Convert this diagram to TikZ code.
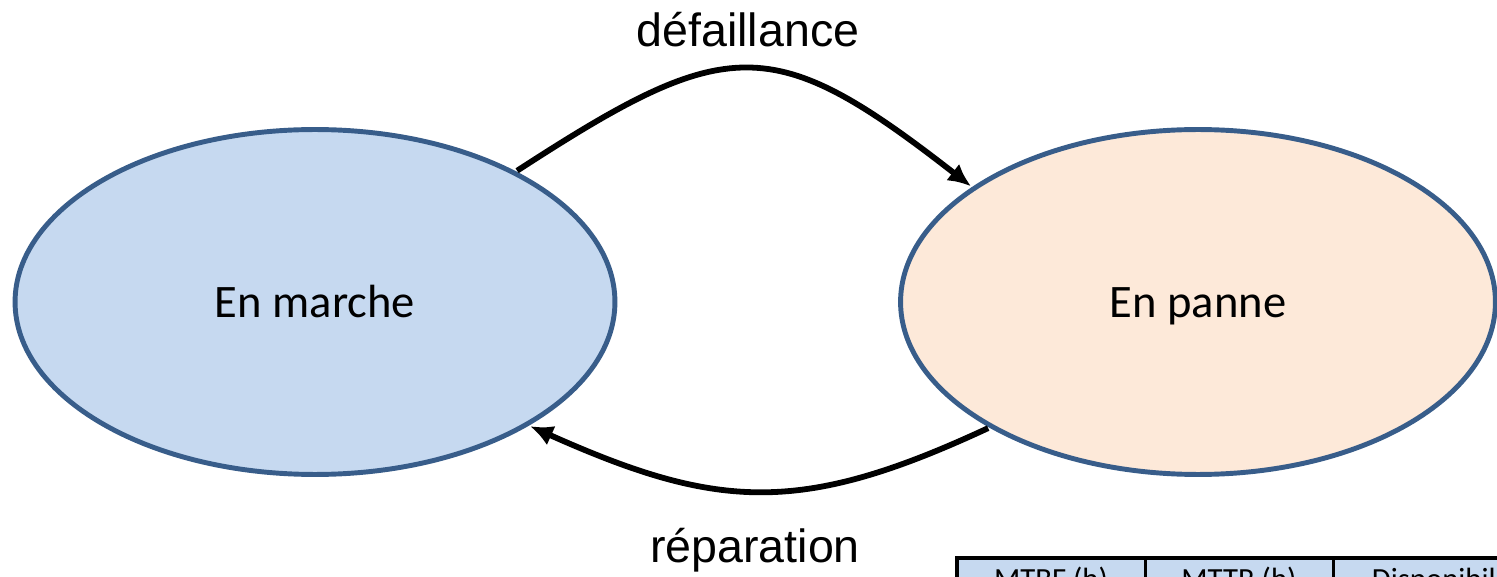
\documentclass[tikz,border=0pt]{standalone}
\usepackage{fontspec}
\setmainfont{Carlito}
\newfontfamily\arialfont{Liberation Sans}
\usetikzlibrary{arrows.meta}
\usetikzlibrary{shapes.geometric}
\usetikzlibrary{positioning}
\definecolor{etatbleu}{RGB}{198,217,240}
\definecolor{etatrose}{RGB}{253,233,217}
\definecolor{bordbleu}{RGB}{56,93,138}

\begin{document}
\begin{tikzpicture}
	[x=0.02cm, y=-0.02cm,
	 etat/.style={ellipse, draw=bordbleu, line width=2.8pt, minimum width=12cm, minimum height=6.9cm, inner sep=0pt, outer sep=2pt, font=\fontsize{26.5}{30}\selectfont, text height=18pt, text depth=0pt},
	 transition/.style={line width=3.3pt, -{Latex[length=0.46cm,width=0.42cm]}},
	 etiquette/.style={font=\arialfont\fontsize{26.5}{30}\selectfont, anchor=base},
	 cellule/.style={font=\fontsize{17.5}{20}\selectfont, anchor=base}]
	\useasboundingbox (0,0) rectangle (1497,577);
	\clip (0,0) rectangle (1497,577);
	% les deux etats
	\node[etat, fill=etatbleu] (marche) at (315,302) {En marche};
	\node[etat, fill=etatrose, minimum width=11.9cm] (panne) at (1198,302) {En panne};
	% transitions
	\draw[transition] (marche.33) .. controls +(211,-137) and +(-199,-155) .. (panne.153);
	\draw[transition] (panne.211) .. controls +(-187,87) and +(188,84) .. (marche.330);
	\node[etiquette] (defaillance) at (748,47) {défaillance};
	\node[etiquette] (reparation) at (755,562) {réparation};
	% tableau (coupe)
	\draw[fill=etatbleu, line width=1.7pt] (957,558) rectangle (1567,640);
	\draw[line width=2.4pt] (957,640) -- (957,558) -- (1567,558);
	\draw[line width=1.7pt] (1145,558) -- (1145,640);
	\draw[line width=1.7pt] (1333,558) -- (1333,640);
	\node[cellule] (mtbf) at (1051,589) {MTBF (h)};
	\node[cellule] (mttr) at (1239,589) {MTTR (h)};
	\node[cellule] (dispo) at (1450,589) {Disponibilité};
\end{tikzpicture}
\end{document}
